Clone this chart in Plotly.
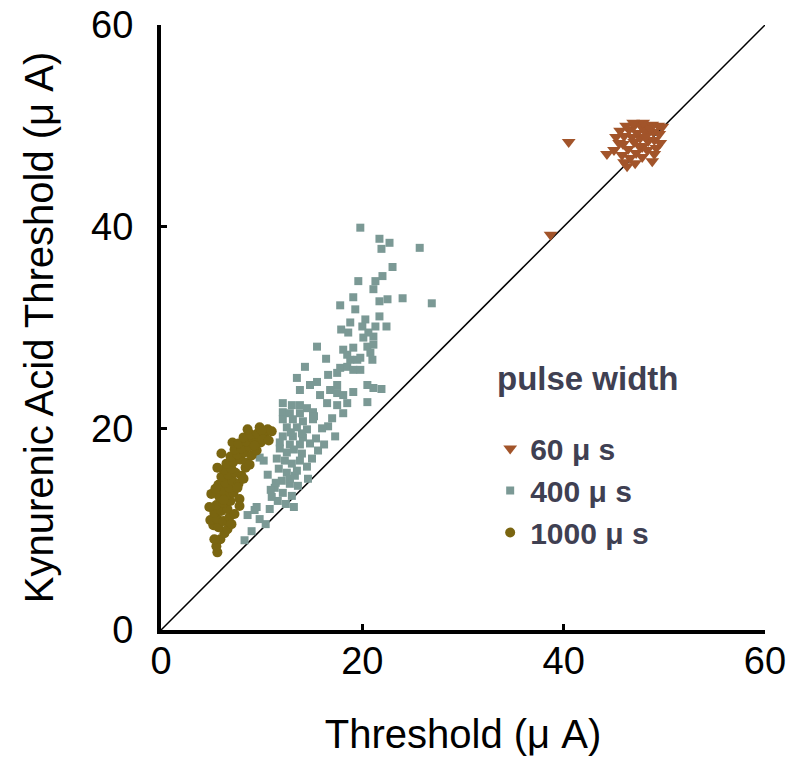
import plotly.graph_objects as go

# ---- data ----
x60 = [44.3, 45.0, 45.5, 46.0, 46.5, 47.0, 47.6, 48.2, 48.8, 49.4, 49.8, 45.8, 46.4, 47.0, 47.6, 48.2,
       48.9, 49.5, 46.0, 46.6, 47.2, 47.8, 48.4, 49.0, 46.3, 47.1, 47.8, 48.8, 48.3, 45.2, 45.6, 46.2,
       47.3, 48.0, 49.2, 49.6, 40.5, 38.7, 46.8, 47.5, 48.6, 45.9, 49.0, 47.9, 46.9, 48.1]
y60 = [47.2, 47.6, 48.3, 49.0, 49.6, 50.0, 50.1, 50.0, 50.1, 50.0, 49.9, 47.1, 47.7, 48.4, 48.8, 49.3,
       49.4, 49.2, 46.4, 46.8, 47.3, 47.9, 48.5, 48.6, 46.0, 46.3, 46.9, 46.5, 47.6, 48.9, 49.5, 50.0,
       49.3, 49.6, 47.8, 48.3, 48.4, 39.2, 48.9, 48.0, 49.7, 48.2, 47.2, 50.3, 50.3, 48.9]

x400 = [19.8, 21.7, 22.7, 21.9, 25.7, 23.0, 19.6, 21.3, 22.0, 21.1, 19.1, 17.8, 19.3, 24.0, 26.9,
        21.7, 22.5, 21.7, 20.3, 21.3, 22.4, 20.0, 18.6, 20.1, 21.1, 15.5, 18.1, 19.1, 20.5, 21.1,
        18.5, 20.8, 21.0, 18.8, 19.5, 14.3, 17.8, 18.5, 19.1, 19.8, 16.6, 17.5, 13.5, 15.5, 14.8,
        17.5, 20.5, 21.1, 21.9, 13.8, 17.5, 18.1, 19.1, 15.8, 20.5, 16.5, 17.5, 18.5, 12.1, 13.0,
        13.8, 14.5, 15.1, 18.1, 12.1, 12.8, 13.8, 12.1, 13.1, 14.1, 15.1, 16.6, 12.5, 13.5, 14.5,
        17.3, 12.1, 13.1, 14.1, 11.8, 12.8, 13.8,
        11.8, 12.5, 13.2, 14.0, 11.5, 12.3, 13.0, 13.8, 14.5, 11.7, 12.5, 13.3, 12.0, 12.8, 13.6,
        14.6, 11.3, 12.1, 13.0, 11.6, 12.4, 13.2, 10.8, 11.0, 9.8, 10.4, 9.5, 8.3, 9.0, 10.2, 10.6,
        15.0, 15.6, 16.2, 14.8, 15.4, 9.8, 8.6, 9.3, 10.9, 11.4, 12.8, 13.5, 16.0, 17.0, 19.8, 20.6,
        18.8, 16.8, 14.0, 15.2, 12.9, 16.4, 17.9]
y400 = [39.9, 38.8, 38.4, 37.8, 37.9, 36.0, 34.6, 34.6, 35.1, 33.8, 33.0, 32.2, 31.8, 32.9, 32.4,
        32.6, 32.8, 31.1, 30.8, 30.1, 30.1, 30.1, 29.5, 29.0, 29.1, 28.1, 27.8, 28.0, 28.1, 28.3,
        27.3, 27.5, 26.8, 26.8, 26.8, 26.1, 26.0, 26.1, 25.8, 25.8, 25.3, 25.5, 25.0, 24.6, 24.3,
        24.3, 24.3, 24.0, 23.9, 23.8, 23.5, 23.3, 23.6, 23.3, 22.6, 22.5, 22.3, 22.5, 22.5, 22.3,
        22.3, 22.0, 21.6, 21.5, 21.6, 21.5, 21.5, 20.9, 20.9, 20.7, 20.9, 20.2, 20.1, 20.1, 19.9,
        19.2, 19.2, 19.2, 19.1, 18.6, 18.4, 18.4,
        18.0, 17.6, 17.9, 17.5, 17.0, 16.8, 16.5, 16.8, 16.2, 16.0, 15.6, 15.3, 14.8, 14.5, 14.3,
        15.0, 14.1, 13.6, 13.3, 12.8, 12.5, 12.2, 12.0, 13.2, 11.0, 10.5, 12.2, 8.9, 9.8, 16.8, 15.4,
        17.0, 17.8, 18.4, 18.5, 19.0, 17.1, 11.4, 11.9, 13.9, 14.6, 15.0, 15.8, 20.0, 21.0, 27.0, 29.5,
        30.5, 23.8, 19.5, 21.2, 19.6, 26.9, 29.8]

x1000 = [5.6, 5.5, 5.9, 6.3, 5.2, 5.7,
         4.9, 5.6, 6.2, 6.8, 5.3, 6.0, 6.6, 7.3,
         5.5, 6.2, 6.9, 5.8, 6.5, 7.2, 7.8, 6.1, 6.8,
         5.7, 6.4, 7.1, 7.7, 6.0, 6.7, 7.4, 8.0, 6.3, 7.0, 8.4,
         5.6, 6.5, 7.2, 7.9, 8.5, 6.9, 7.6, 8.3, 9.0, 7.3, 8.0, 8.8, 9.5,
         7.1, 7.7, 8.5, 9.2, 9.9, 8.2, 8.9, 9.6, 10.3, 9.8, 10.6, 11.0, 10.0, 8.6,
         4.8, 5.0, 5.4, 6.0, 7.6, 8.2, 8.8, 6.6, 5.3, 6.2, 7.0, 7.8, 9.3, 10.1, 10.7]
y1000 = [7.7, 8.3, 9.0, 9.6, 10.4, 10.2,
         10.9, 11.0, 10.8, 11.2, 11.6, 11.8, 12.0, 11.5,
         12.4, 12.6, 12.8, 13.2, 13.4, 13.6, 13.0, 13.9, 14.1,
         14.4, 14.6, 14.8, 14.5, 15.2, 15.4, 15.6, 15.3, 15.9, 16.0, 16.1,
         16.1, 16.5, 16.7, 16.9, 16.6, 17.2, 17.4, 17.6, 17.3, 17.9, 18.0, 18.2, 17.8,
         18.6, 18.5, 18.7, 18.9, 18.6, 19.1, 19.4, 19.5, 19.3, 20.1, 19.9, 19.7, 19.8, 19.9,
         12.2, 13.5, 14.0, 17.5, 14.1, 15.0, 16.4, 10.0, 9.0, 12.9, 10.5, 12.3, 18.3, 18.9, 18.8]

identity = [0, 60]
ticks = [0, 20, 40, 60]

FONT = "Liberation Sans, Arial, Helvetica, sans-serif"
LEG = "#3f4052"

fig = go.Figure()
fig.add_trace(go.Scatter(x=identity, y=identity, mode="lines",
                         line=dict(color="black", width=1.5), showlegend=False, hoverinfo="skip"))
fig.add_trace(go.Scatter(x=x400, y=y400, mode="markers", name="400 μ s", legendrank=2,
                         marker=dict(symbol="square", size=8, color="#7b9995")))
fig.add_trace(go.Scatter(x=x1000, y=y1000, mode="markers", name="1000 μ s", legendrank=3,
                         marker=dict(symbol="circle", size=10, color="#7a6510")))
fig.add_trace(go.Scatter(x=x60, y=y60, mode="markers", name="60 μ s", legendrank=1,
                         marker=dict(symbol="triangle-down", size=12, color="#a2542a")))

fig.update_layout(
    width=794, height=762,
    margin=dict(l=153, r=37, t=17, b=140, autoexpand=False),
    paper_bgcolor="white", plot_bgcolor="white",
    font=dict(family=FONT, color="black"),
    legend=dict(traceorder="normal", x=0.545, y=0.343, xanchor="left", yanchor="top",
                font=dict(size=30, color=LEG, family=FONT, weight="bold"),
                bgcolor="rgba(0,0,0,0)", itemsizing="trace", itemwidth=30),
    annotations=[dict(text="<b>pulse width</b>", xref="paper", yref="paper",
                      x=0.553, y=0.45, xanchor="left", yanchor="top", showarrow=False,
                      font=dict(size=33, color=LEG, family=FONT))],
)

fig.update_xaxes(range=[0, 60], tickvals=ticks, showline=True, linewidth=4, linecolor="black",
                 ticks="inside", ticklen=6, tickwidth=3, tickcolor="black", showgrid=False,
                 zeroline=False, tickfont=dict(size=38, family=FONT), ticklabelstandoff=-6,
                 ticklabeloverflow="allow",
                 title=dict(text="Threshold (μ A)", font=dict(size=40, family=FONT), standoff=40))
fig.update_yaxes(range=[0, 60], tickvals=ticks, showline=True, linewidth=4, linecolor="black",
                 ticks="inside", ticklen=6, tickwidth=3, tickcolor="black", showgrid=False,
                 zeroline=False, tickfont=dict(size=38, family=FONT), ticklabelstandoff=16,
                 ticklabeloverflow="allow",
                 title=dict(text="Kynurenic Acid Threshold (μ A)", font=dict(size=40, family=FONT),
                            standoff=26))

fig.write_html("out.html")
